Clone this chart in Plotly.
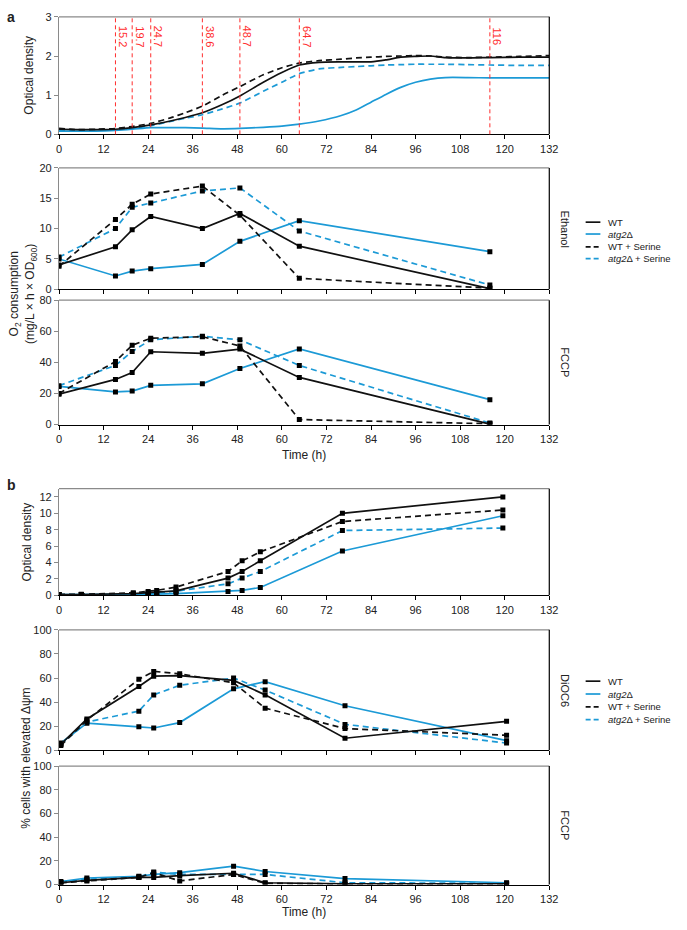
import plotly.graph_objects as go

W, H = 687, 930

# ---------------- data ----------------
# panel a, top: optical density growth curves
od_a_t = [0, 5, 10, 15.2, 19.7, 24.7, 30, 34, 38.6, 44, 48.7, 55, 60, 64.7, 70, 76, 80, 84, 88, 92, 96, 100, 104, 110, 116, 124, 132]
od_a_wt = [0.13, 0.12, 0.12, 0.13, 0.17, 0.24, 0.34, 0.43, 0.55, 0.76, 0.98, 1.33, 1.58, 1.77, 1.84, 1.85, 1.85, 1.85, 1.9, 1.97, 1.99, 2.0, 1.96, 1.95, 1.96, 1.97, 1.97]
od_a_atg = [0.08, 0.08, 0.08, 0.1, 0.13, 0.17, 0.17, 0.17, 0.16, 0.14, 0.15, 0.18, 0.21, 0.26, 0.34, 0.48, 0.62, 0.82, 1.02, 1.2, 1.33, 1.41, 1.45, 1.45, 1.44, 1.44, 1.44]
od_a_wts = [0.15, 0.12, 0.13, 0.15, 0.2, 0.28, 0.42, 0.55, 0.72, 1.0, 1.22, 1.52, 1.7, 1.82, 1.88, 1.92, 1.95, 1.97, 1.99, 2.0, 2.01, 2.0, 1.97, 1.96, 1.97, 1.99, 2.01]
od_a_atgs = [0.1, 0.1, 0.11, 0.12, 0.15, 0.22, 0.33, 0.41, 0.5, 0.65, 0.8, 1.1, 1.33, 1.55, 1.67, 1.71, 1.73, 1.75, 1.77, 1.78, 1.79, 1.79, 1.79, 1.78, 1.77, 1.76, 1.76]

# sampling times, panel a
t_a = [0, 15.2, 19.7, 24.7, 38.6, 48.7, 64.7, 116]
sample_labels = ['15.2', '19.7', '24.7', '38.6', '48.7', '64.7', '116']
sample_times = [15.2, 19.7, 24.7, 38.6, 48.7, 64.7, 116]

eth_wt = [4.0, 7.0, 9.8, 12.0, 10.0, 12.5, 7.1, 0.1]
eth_atg = [5.0, 2.2, 3.0, 3.4, 4.1, 7.9, 11.3, 6.2]
eth_wts = [3.8, 11.5, 14.0, 15.7, 17.0, 12.2, 1.8, 0.2]
eth_atgs = [5.3, 10.0, 13.5, 14.2, 16.2, 16.7, 9.6, 0.7]

fccp_a_wt = [19.5, 29.0, 33.5, 46.8, 45.8, 48.5, 30.3, 0.3]
fccp_a_atg = [24.5, 21.0, 21.5, 25.2, 26.2, 36.0, 48.6, 16.0]
fccp_a_wts = [20.0, 40.5, 51.0, 55.5, 56.5, 50.5, 3.2, 0.5]
fccp_a_atgs = [25.0, 38.0, 47.0, 54.5, 56.8, 54.5, 38.0, 1.0]

# panel b
t_b_od = [0, 6, 20, 24, 26.3, 31.5, 45.5, 49.3, 54.2, 76.3, 119.5]
od_b_wt = [0.1, 0.1, 0.2, 0.3, 0.35, 0.55, 2.1, 2.9, 4.2, 10.0, 12.0]
od_b_atg = [0.1, 0.1, 0.1, 0.12, 0.15, 0.2, 0.45, 0.6, 0.95, 5.4, 9.7]
od_b_wts = [0.1, 0.12, 0.3, 0.45, 0.6, 1.0, 2.9, 4.2, 5.3, 9.0, 10.4]
od_b_atgs = [0.1, 0.1, 0.2, 0.25, 0.3, 0.5, 1.4, 2.1, 2.9, 7.9, 8.2]

t_b = [0.5, 7.5, 21.5, 25.5, 32.5, 47, 55.5, 77, 120.5]
dioc_wt = [5, 26, 53, 61.5, 62, 58, 46, 10, 24]
dioc_atg = [6, 22.5, 19.5, 18.5, 23, 51, 57, 37, 8]
dioc_wts = [4, 25, 59, 65.5, 63.5, 56, 35, 18, 12.5]
dioc_atgs = [5, 23.5, 32.5, 46, 54, 60, 50, 21.5, 6]

fccp_b_wt = [1.5, 3.5, 6, 6, 7.5, 9.5, 1.5, 0.5, 0.5]
fccp_b_atg = [2.5, 5.5, 7, 8.5, 10, 15.5, 11, 5, 1.5]
fccp_b_wts = [1.5, 3, 6, 10, 3, 8.5, 1, 0.5, 0.5]
fccp_b_atgs = [2, 4.5, 6.5, 10.5, 8.5, 8.5, 8.5, 1.5, 1]

x_ticks = list(range(0, 133, 12))

# ---------------- style ----------------
BLACK = '#111111'
BLUE = '#1c9ad6'
RED = '#ff2d2d'
GREY = '#8a8a8a'
FONT = 'Liberation Sans Narrow, Liberation Sans, Arial, sans-serif'
DASH = '6px,4px'

series_style = [  # (color, dash)
    (BLUE, 'solid'), (BLUE, DASH), (BLACK, 'solid'), (BLACK, DASH)
]

# panel geometry in pixels: (top px, bottom px, y range, dtick, show x tick labels)
panels = [
    (11, 130, [0, 3], 1, True),
    (164, 287, [0, 20], 5, False),
    (298, 424, [0, 80], 20, True),
    (489, 597, [0, 13], 2, True),
    (632, 754, [0, 100], 20, False),
    (770, 890, [0, 100], 20, True),
]
X0, X1 = 57, 556


def px(xp):
    return xp / W


def py(yp):
    return 1 - yp / H


fig = go.Figure()

panel_data = [
    (od_a_t, [od_a_atg, od_a_atgs, od_a_wt, od_a_wts], False),
    (t_a, [eth_atg, eth_atgs, eth_wt, eth_wts], True),
    (t_a, [fccp_a_atg, fccp_a_atgs, fccp_a_wt, fccp_a_wts], True),
    (t_b_od, [od_b_atg, od_b_atgs, od_b_wt, od_b_wts], True),
    (t_b, [dioc_atg, dioc_atgs, dioc_wt, dioc_wts], True),
    (t_b, [fccp_b_atg, fccp_b_atgs, fccp_b_wt, fccp_b_wts], True),
]

for i, (tt, ys, markers) in enumerate(panel_data, start=1):
    sfx = '' if i == 1 else str(i)
    for (col, dash), yv in zip(series_style, ys):
        fig.add_trace(go.Scatter(
            x=tt, y=yv,
            mode='lines+markers' if markers else 'lines',
            line=dict(color=col, width=1.7, dash=dash,
                      shape='linear' if markers else 'spline', smoothing=0.6),
            marker=dict(symbol='square', size=5, color='black'),
            xaxis='x' + sfx, yaxis='y' + sfx,
            showlegend=False, hoverinfo='skip'))

layout = dict(
    width=W, height=H,
    margin=dict(l=0, r=0, t=0, b=0),
    paper_bgcolor='white', plot_bgcolor='white',
    font=dict(family=FONT, size=11, color='#222222'),
    showlegend=False,
)

shapes = []
annotations = []
for i, (top, bot, yr, dt, showlab) in enumerate(panels, start=1):
    sfx = '' if i == 1 else str(i)
    layout['xaxis' + sfx] = dict(
        domain=[px(X0), px(X1)], range=[0, 132], tickvals=x_ticks,
        showticklabels=showlab, ticks='outside', ticklen=4, tickcolor='black',
        showline=True, linecolor='black', linewidth=1.2, showgrid=False,
        zeroline=False, anchor='y' + sfx, tickfont=dict(size=11, color='#222'))
    layout['yaxis' + sfx] = dict(
        domain=[py(bot), py(top)], range=yr, dtick=dt, tick0=0,
        ticks='outside', ticklen=4, tickcolor=GREY,
        showline=True, linecolor=GREY, linewidth=1.2, showgrid=False,
        zeroline=False, anchor='x' + sfx, tickfont=dict(size=11, color='#222'))
    # top (grey) and right (black) frame lines
    shapes.append(dict(type='line', xref='x%s domain' % sfx, yref='y%s domain' % sfx,
                       x0=0, x1=1, y0=1, y1=1, line=dict(color=GREY, width=1.2)))
    shapes.append(dict(type='line', xref='x%s domain' % sfx, yref='y%s domain' % sfx,
                       x0=1, x1=1, y0=0, y1=1, line=dict(color='black', width=1.2)))

# sampling time markers on the growth curve
for t, lab in zip(sample_times, sample_labels):
    shapes.append(dict(type='line', xref='x', yref='y domain', x0=t, x1=t, y0=0, y1=1,
                       line=dict(color=RED, width=1, dash='4px,3px'), layer='above'))
    annotations.append(dict(x=t, y=2.5, xref='x', yref='y', text=lab, textangle=90,
                            showarrow=False, xshift=7, xanchor='center', yanchor='middle',
                            font=dict(color=RED, size=11)))


def note(text, xp, yp, angle=0, size=12, xanchor='center', yanchor='middle', family='Liberation Sans'):
    annotations.append(dict(x=px(xp), y=py(yp), xref='paper', yref='paper', text=text,
                            textangle=angle, showarrow=False, xanchor=xanchor, yanchor=yanchor,
                            font=dict(size=size, family=family)))


# panel letters
note('<b>a</b>', 2, 1, size=14, xanchor='left', yanchor='top')
note('<b>b</b>', 2, 475, size=14, xanchor='left', yanchor='top')

# y axis titles
note('Optical density', 27, 70, angle=-90)
note('O<sub>2</sub> consumption<br>(mg/L × h × OD<sub>600</sub>)', 20, 292, angle=-90)
note('Optical density', 24, 543, angle=-90)
note('% cells with elevated Δψm', 24, 762, angle=-90)

# x axis titles
note('Time (h)', (X0 + X1) / 2, 455)
note('Time (h)', (X0 + X1) / 2, 918)

# facet labels on the right
for lab, i in [('Ethanol', 1), ('FCCP', 2), ('DiOC6', 4), ('FCCP', 5)]:
    top, bot = panels[i][0], panels[i][1]
    note(lab, 572, (top + bot) / 2, angle=90, size=11)

# legends (drawn by hand to get Excel-like compact spacing)
legend_names = ['WT', '<i>atg2</i>Δ', 'WT + Serine', '<i>atg2</i>Δ + Serine']
legend_styles = [(BLACK, 'solid'), (BLUE, 'solid'), (BLACK, '5px,3px'), (BLUE, '5px,3px')]
for rows in ([219, 231, 244, 256], [684, 697, 710, 723]):
    for name, (col, dash), yp in zip(legend_names, legend_styles, rows):
        shapes.append(dict(type='line', xref='paper', yref='paper', x0=px(593), x1=px(608),
                           y0=py(yp), y1=py(yp), line=dict(color=col, width=1.7, dash=dash)))
        note(name, 614, yp, size=9.5, xanchor='left')

layout['shapes'] = shapes
layout['annotations'] = annotations
fig.update_layout(**layout)

# drop the browser's default 8px body margin so the figure sits at the page corner
fig.write_html('out.html', config={'displayModeBar': False},
               post_script="document.body.style.margin='0';")
